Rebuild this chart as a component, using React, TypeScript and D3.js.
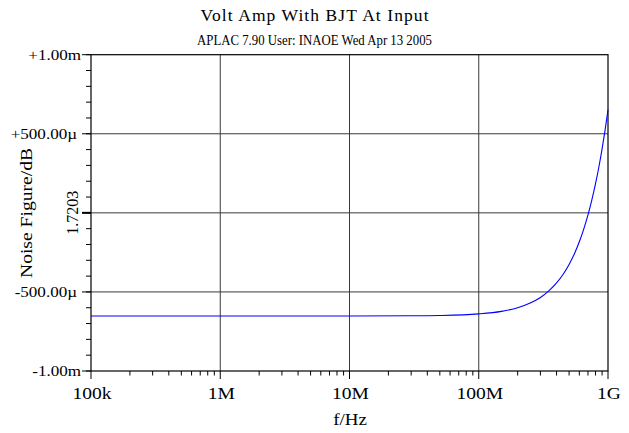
import * as d3 from "d3";

// frequency sweep (Hz) and noise figure (dB)
const freqs = [
  1e5, 1e6, 1e7, 3e7, 5e7, 1e8, 1.5e8, 2e8, 2.5e8, 3e8, 3.5e8, 4e8, 4.5e8,
  5e8, 5.5e8, 6e8, 6.5e8, 7e8, 7.5e8, 8e8, 8.5e8, 9e8, 9.5e8, 1e9,
];
const noiseFigure = [
  1.719648, 1.719648, 1.719648, 1.719649, 1.719651, 1.719661, 1.719677,
  1.7197, 1.71973, 1.719765, 1.719808, 1.719857, 1.719912, 1.719974,
  1.720042, 1.720117, 1.720199, 1.720287, 1.720382, 1.720483, 1.72059,
  1.720704, 1.720825, 1.720952,
];

const xTicks = [1e5, 1e6, 1e7, 1e8, 1e9];
const xTickLabels = ["100k", "1M", "10M", "100M", "1G"];
const yTicks = [1.7193, 1.7198, 1.7203, 1.7208, 1.7213];
const yTickLabels = ["-1.00m", "-500.00µ", "1.7203", "+500.00µ", "+1.00m"];

const W = 629;
const H = 433;
const left = 91;
const right = 608;
const top = 54.7;
const bottom = 371;
const font = "Liberation Serif, Times New Roman, serif";

export default function App() {
  const x = d3.scaleLog().domain([1e5, 1e9]).range([left, right]);
  const y = d3.scaleLinear().domain([1.7193, 1.7213]).range([bottom, top]);

  const line = d3
    .line<number>()
    .x((_, i) => x(freqs[i]))
    .y((d) => y(d))
    .curve(d3.curveMonotoneX);

  // minor ticks: 2..9 in each decade, 100µ steps on y
  const xMinor: number[] = [];
  for (let dec = 1e5; dec < 1e9; dec *= 10)
    for (let k = 2; k <= 9; k++) xMinor.push(dec * k);
  const yMinor = d3.range(0, 21).map((i) => 1.7193 + i * 0.0001);

  return (
    <svg
      width={W}
      height={H}
      style={{ position: "absolute", left: 0, top: 0, background: "#fff", fontFamily: font }}
    >
      <text
        x={W / 2}
        y={20.5}
        textAnchor="middle"
        fontSize={17.5}
        textLength={228}
        lengthAdjust="spacing"
        fill="#000"
      >
        Volt Amp With BJT At Input
      </text>
      <text
        x={W / 2}
        y={45}
        textAnchor="middle"
        fontSize={15.5}
        textLength={235}
        lengthAdjust="spacingAndGlyphs"
        fill="#000"
      >
        APLAC 7.90 User: INAOE Wed Apr 13 2005
      </text>

      {/* grid */}
      {xTicks.slice(1, -1).map((t) => (
        <line key={t} x1={x(t)} x2={x(t)} y1={top} y2={bottom} stroke="#3a3a3a" strokeWidth={1} />
      ))}
      {yTicks.slice(1, -1).map((t) => (
        <line key={t} x1={left} x2={right} y1={y(t)} y2={y(t)} stroke="#3a3a3a" strokeWidth={1} />
      ))}

      {/* frame */}
      <rect x={left} y={top} width={right - left} height={bottom - top} fill="none" stroke="#000" strokeWidth={1.2} />

      {/* y ticks */}
      {yMinor.map((t, i) => (
        <line key={i} x1={left - 5} x2={left} y1={y(t)} y2={y(t)} stroke="#000" />
      ))}
      {yTicks.map((t, i) => (
        <line
          key={t}
          x1={left - 9}
          x2={left}
          y1={y(t)}
          y2={y(t)}
          stroke="#000"
          strokeWidth={i === 2 ? 2 : 1}
        />
      ))}
      {yTicks.map((t, i) =>
        i === 2 ? (
          <text
            key={t}
            transform={`translate(78,${y(t)}) rotate(-90)`}
            textAnchor="middle"
            fontSize={17}
            textLength={44}
            lengthAdjust="spacingAndGlyphs"
          >
            {yTickLabels[i]}
          </text>
        ) : (
          <g key={t} transform={`translate(${yTickLabels[i].endsWith("µ") ? 77 : 81},${y(t) + 5}) scale(1.1,1)`}>
            <text textAnchor="end" fontSize={15.5}>
              {yTickLabels[i]}
            </text>
          </g>
        )
      )}

      {/* x ticks */}
      {xMinor.map((t) => (
        <line key={t} x1={x(t)} x2={x(t)} y1={bottom} y2={bottom + 4.5} stroke="#000" />
      ))}
      {xTicks.map((t, i) => (
        <g key={t}>
          <line x1={x(t)} x2={x(t)} y1={bottom} y2={bottom + 8} stroke="#000" />
          <g transform={`translate(${x(t) + 1},398.5) scale(1.15,1)`}>
            <text textAnchor="middle" fontSize={17}>
              {xTickLabels[i]}
            </text>
          </g>
        </g>
      ))}

      {/* axis titles */}
      <text
        transform="translate(32,213) rotate(-90)"
        textAnchor="middle"
        fontSize={17}
        textLength={130}
        lengthAdjust="spacingAndGlyphs"
      >
        Noise Figure/dB
      </text>
      <g transform="translate(350,425) scale(1.15,1)">
        <text textAnchor="middle" fontSize={16.5}>
          f/Hz
        </text>
      </g>

      {/* curve */}
      <path d={line(noiseFigure) ?? ""} fill="none" stroke="#0000ff" strokeWidth={1.1} />
    </svg>
  );
}
